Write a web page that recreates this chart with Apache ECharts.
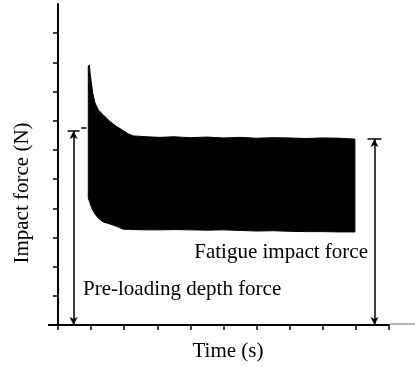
<!DOCTYPE html>
<html>
<head>
<meta charset="utf-8">
<script src="https://cdn.jsdelivr.net/npm/echarts@6/dist/echarts.min.js"></script>
<style>
  html, body { margin: 0; padding: 0; background: #fff; }
  #chart { width: 415px; height: 367px; }
</style>
</head>
<body>
<div id="chart"></div>
<script>
const timePoints = [0.915, 0.946, 0.976, 0.997, 1.048, 1.118, 1.218, 1.369, 1.571, 1.773, 1.973, 2.124, 2.275,
  2.68, 3.082, 3.5, 4.0, 4.5, 5.0, 5.5, 6.0, 6.5, 7.0, 7.5, 8.0, 8.5, 8.97];
const upperForce = [8.88, 8.91, 8.57, 8.40, 7.95, 7.61, 7.37, 7.20, 6.97, 6.80, 6.66, 6.55, 6.48,
  6.45, 6.43, 6.45, 6.42, 6.44, 6.41, 6.43, 6.40, 6.42, 6.41, 6.39, 6.41, 6.40, 6.37];
const lowerForce = [4.35, 4.25, 4.15, 4.08, 3.94, 3.80, 3.66, 3.53, 3.46, 3.38, 3.28, 3.28, 3.27,
  3.26, 3.26, 3.27, 3.26, 3.25, 3.26, 3.24, 3.22, 3.23, 3.21, 3.20, 3.20, 3.19, 3.19];

// annotation levels
const preloadForce = 6.65;
const fatigueForce = 6.37;
const preloadArrowTime = 0.47;
const fatigueArrowTime = 9.56;
const preloadMarkForce = 6.75;

const xTicks = [0, 1, 2, 3, 4, 5, 6, 7, 8, 9, 10];
const yTicks = [0, 1, 2, 3, 4, 5, 6, 7, 8, 9, 10];

const serif = '"Liberation Serif", "Times New Roman", serif';

const chart = echarts.init(document.getElementById('chart'));

// whole band drawn as one polygon: upper envelope forward, lower envelope back
function renderBand(params, api) {
  if (params.dataIndexInside !== 0) return null;
  const n = params.dataInsideLength;
  const pts = [];
  for (let i = 0; i < n; i++) {
    pts.push(api.coord([api.value(0, i), api.value(1, i)]));
  }
  for (let i = n - 1; i >= 0; i--) {
    pts.push(api.coord([api.value(0, i), api.value(2, i)]));
  }
  return {
    type: 'polygon',
    shape: { points: pts },
    style: { fill: '#000', stroke: '#000', lineWidth: 1 }
  };
}

const option = {
  animation: false,
  grid: { left: 58, right: 26, top: 4, bottom: 42 },
  xAxis: {
    type: 'value',
    min: 0,
    max: 10,
    z: 5,
    name: 'Time (s)',
    nameLocation: 'middle',
    nameGap: 16,
    nameTextStyle: { fontFamily: serif, fontSize: 21, color: '#000', padding: [0, 0, 0, 9] },
    axisLine: { show: true, lineStyle: { color: '#000', width: 2 } },
    axisTick: { show: true, length: 5, customValues: xTicks, lineStyle: { color: '#000', width: 1.5 } },
    axisLabel: { show: false },
    splitLine: { show: false }
  },
  yAxis: {
    type: 'value',
    min: 0,
    max: 11,
    z: 5,
    name: 'Impact force (N)',
    nameLocation: 'middle',
    nameGap: 25,
    nameTextStyle: { fontFamily: serif, fontSize: 21, color: '#000', padding: [0, 57, 0, 0] },
    axisLine: { show: true, lineStyle: { color: '#000', width: 2 } },
    axisTick: { show: true, length: 5, customValues: yTicks, lineStyle: { color: '#000', width: 1.5 } },
    axisLabel: { show: false },
    splitLine: { show: false }
  },
  series: [
    {
      name: 'signal',
      type: 'custom',
      silent: true,
      renderItem: renderBand,
      encode: { x: 0, y: [1, 2] },
      data: timePoints.map((t, i) => [t, upperForce[i], lowerForce[i]])
    },
    {
      name: 'annotations',
      type: 'line',
      silent: true,
      data: [],
      markLine: {
        silent: true,
        animation: false,
        symbol: ['arrow', 'arrow'],
        symbolSize: [6, 8],
        label: { show: false },
        emphasis: { disabled: true },
        lineStyle: { color: '#000', width: 1.5, type: 'solid' },
        data: [
          [{ coord: [preloadArrowTime, 0] }, { coord: [preloadArrowTime, preloadForce] }],
          [{ coord: [fatigueArrowTime, 0] }, { coord: [fatigueArrowTime, fatigueForce] }],
          [{ coord: [preloadArrowTime - 0.18, preloadForce], symbol: 'none' },
           { coord: [preloadArrowTime + 0.18, preloadForce], symbol: 'none' }],
          [{ coord: [fatigueArrowTime - 0.21, fatigueForce], symbol: 'none' },
           { coord: [fatigueArrowTime + 0.21, fatigueForce], symbol: 'none' }],
          [{ coord: [0.70, preloadMarkForce], symbol: 'none' },
           { coord: [0.86, preloadMarkForce], symbol: 'none' }]
        ]
      }
    }
  ],
  graphic: [
    {
      type: 'text',
      z: 10,
      x: 368,
      y: 252,
      style: { text: 'Fatigue impact force', font: '21px ' + serif, fill: '#000', align: 'right', verticalAlign: 'middle' }
    },
    {
      type: 'text',
      z: 10,
      x: 83,
      y: 289,
      style: { text: 'Pre-loading depth force', font: '21px ' + serif, fill: '#000', align: 'left', verticalAlign: 'middle' }
    },
    // axis line runs a little past the origin and fades out on the right
    {
      type: 'line',
      z: 10,
      shape: { x1: 48, y1: 325, x2: 58, y2: 325 },
      style: { stroke: '#000', lineWidth: 2 }
    },
    {
      type: 'line',
      z: 10,
      shape: { x1: 390, y1: 324, x2: 415, y2: 324 },
      style: { stroke: '#b4b4b4', lineWidth: 2 }
    }
  ]
};

chart.setOption(option);
window.addEventListener('resize', () => {
  chart.resize();
});
</script>
</body>
</html>
